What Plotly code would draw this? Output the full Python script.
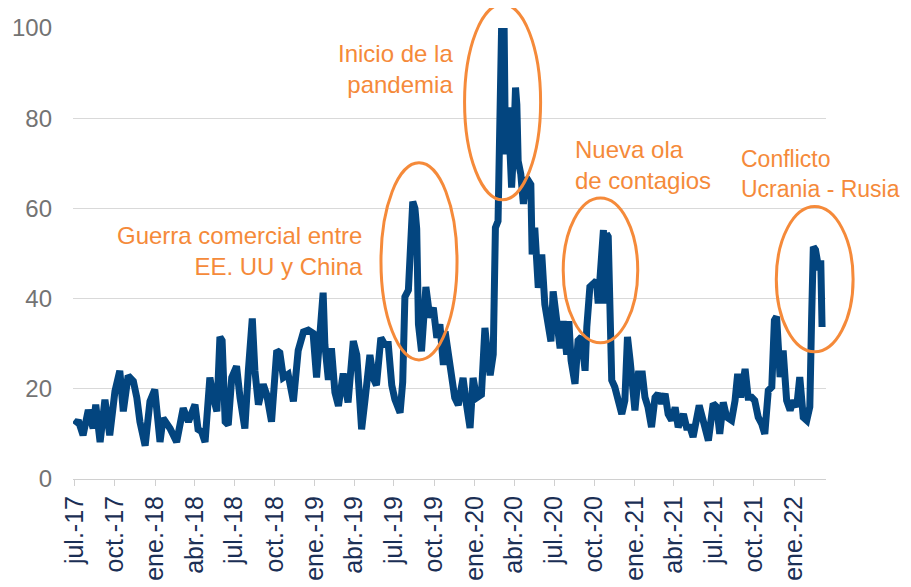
import pandas as pd
import plotly.graph_objects as go

START = pd.Timestamp("2017-07-01")

# observation dates expressed as days since 1 Jul 2017
days_since_start = [
    0, 8, 19, 31, 42, 48, 58, 69, 80, 92, 103, 111, 122, 134, 142, 149, 161, 172, 183, 189,
    195, 202, 218, 233, 248, 260, 275, 282, 290, 298, 309, 317, 325, 332, 337, 344, 351, 359,
    370, 378, 389, 397, 406, 412, 420, 431, 439, 450, 462, 469, 477, 488, 500, 511, 523, 534,
    545, 553, 561, 568, 572, 580, 587, 595, 603, 614, 625, 637, 645, 648, 656, 664, 675, 683,
    690, 700, 709, 717, 725, 732, 744, 750, 755, 763, 767, 773, 778, 782, 786, 793, 803, 812,
    820, 828, 835, 843, 847, 854, 862, 869, 877, 888, 896, 904, 911, 919, 930, 938, 944, 950,
    957, 962, 968, 972, 976, 982, 985, 991, 995, 999, 1003, 1008, 1011, 1014, 1020, 1026,
    1033, 1043, 1046, 1052, 1060, 1068, 1075, 1083, 1089, 1094, 1102, 1110, 1117, 1125, 1130,
    1135, 1144, 1151, 1159, 1167, 1171, 1178, 1186, 1193, 1197, 1203, 1209, 1212, 1216, 1220,
    1224, 1228, 1235, 1243, 1251, 1258, 1264, 1270, 1277, 1281, 1289, 1298, 1304, 1311, 1319,
    1327, 1334, 1342, 1350, 1357, 1365, 1373, 1380, 1392, 1399, 1407, 1414, 1428, 1437, 1449,
    1460, 1468, 1475, 1483, 1491, 1502, 1510, 1516, 1523, 1533, 1540, 1548, 1555, 1563, 1571,
    1578, 1586, 1594, 1600, 1605, 1613, 1620, 1628, 1636, 1643, 1651, 1658, 1666, 1674, 1681,
    1685, 1689, 1694, 1699, 1702, 1706, 1709,
]

index_values = [
    12, 13, 9.7, 15.3, 11.2, 16.5, 8.2, 17.6, 9.7, 19.5, 24, 15, 22.9, 21.7, 18, 12.7, 7.4, 17.2, 19.8, 12.7,
    8.2, 13.5, 11.2, 8.2, 15.7, 12.7, 16.5, 11, 10.5, 8.2, 22.5, 18, 15, 31.5, 30.7, 12.7, 12, 22.5,
    25, 18, 11.2, 24, 35.6, 24, 16.5, 21, 18.7, 12.7, 28.5, 28, 22.5, 23.2, 17.2, 28.5, 32.6, 33,
    32.3, 22.5, 33.8, 41.3, 29.8, 22, 29, 19.2, 16.2, 23.4, 17, 30.6, 27.5, 23, 11, 17.7, 27.5, 22.3,
    20.8, 31.3, 29.8, 29.8, 20.8, 17.7, 14.7, 21.5, 40.4, 41.9, 54.7, 61.5, 60, 55.5, 34.3, 28.3, 42.6, 35.8,
    38, 31.3, 34.3, 25.3, 32.7, 27.6, 21.6, 18, 16.4, 22.4, 16.4, 11.3, 22.4, 18, 18.7, 33.5, 27.6, 23,
    27.6, 55.7, 57.2, 79.4, 99.4, 99.4, 72, 82.4, 66, 64.6, 72, 86.8, 83, 70.5, 67.6, 61,
    66.8, 65.3, 49.8, 55.7, 42.4, 49.8, 38.7, 35, 30.5, 41.6, 35, 29, 35, 27.6, 35,
    26.3, 21.1, 30.7, 31.5, 24, 33.7, 42.6, 43.3, 44, 38.9, 48.5, 55.2, 38.9, 54.4, 53.7,
    22.6, 21.9, 20.4, 16.7, 14.4, 17.4, 31.5, 26.3, 15.9, 15.2, 23.3, 23.3, 18.1, 15.9, 11.5,
    18.1, 18.9, 16.7, 18.9, 14.4, 13, 15.9, 11.5, 14.4, 11.5, 11.5, 9.3, 16.3, 13, 8.5,
    16.7, 16, 10, 17, 13.7, 13, 17.4, 23.3, 18.1, 24.4, 18.1, 18.1, 17.4, 13.7, 12.2,
    10, 19.6, 20.4, 35.2, 36, 22.6, 28.5, 17.4, 15.2, 17.4, 16, 22.6, 13.7, 13, 16,
    35.2, 51.5, 50.8, 48.5, 46.3, 48.5, 33.7,
]

tick_dates = [
    "2017-07-01", "2017-10-01", "2018-01-01", "2018-04-01", "2018-07-01", "2018-10-01",
    "2019-01-01", "2019-04-01", "2019-07-01", "2019-10-01", "2020-01-01", "2020-04-01",
    "2020-07-01", "2020-10-01", "2021-01-01", "2021-04-01", "2021-07-01", "2021-10-01",
    "2022-01-01",
]
tick_labels = [
    "jul.-17", "oct.-17", "ene.-18", "abr.-18", "jul.-18", "oct.-18",
    "ene.-19", "abr.-19", "jul.-19", "oct.-19", "ene.-20", "abr.-20",
    "jul.-20", "oct.-20", "ene.-21", "abr.-21", "jul.-21", "oct.-21",
    "ene.-22",
]

event_labels = [
    "Guerra comercial entre<br>EE. UU y China",
    "Inicio de la<br>pandemia",
    "Nueva ola<br>de contagios",
    "Conflicto<br>Ucrania - Rusia",
]

dates = [START + pd.Timedelta(days=d) for d in days_since_start]

ORANGE = "#F58A3A"
BLUE = "#03457F"
FONT = "Liberation Sans, Arial, sans-serif"

fig = go.Figure()
fig.add_trace(go.Scatter(
    x=dates, y=index_values, mode="lines",
    line=dict(color=BLUE, width=7),
    hoverinfo="skip", showlegend=False,
))

# ellipses (paper coordinates so they are not clipped)
ellipses = [
    (0.409, 0.264, 0.510, 0.701),
    (0.520, 0.619, 0.621, 1.053),
    (0.651, 0.302, 0.750, 0.623),
    (0.934, 0.282, 1.036, 0.604),
]
for x0, y0, x1, y1 in ellipses:
    fig.add_shape(type="circle", xref="paper", yref="paper",
                  x0=x0, y0=y0, x1=x1, y1=y1,
                  line=dict(color=ORANGE, width=3), layer="above")

label_pos = [
    (0.388, 0.506, "right", "right", 24),
    (0.507, 0.909, "right", "right", 24),
    (0.664, 0.696, "left", "left", 24),
    (0.885, 0.676, "left", "left", 23),
]
for (x, y, xa, al, fs), txt in zip(label_pos, event_labels):
    fig.add_annotation(x=x, y=y, xref="paper", yref="paper", text=txt,
                       showarrow=False, xanchor=xa, yanchor="middle", align=al,
                       font=dict(family=FONT, size=fs, color=ORANGE))

# page body has an 8px default margin, so margins are reduced by 8px
fig.update_layout(
    width=903, height=579,
    margin=dict(l=65, r=85, t=20, b=108),
    paper_bgcolor="white", plot_bgcolor="white",
    font=dict(family=FONT),
    xaxis=dict(
        type="date", range=["2017-06-27", "2022-03-15"],
        tickmode="array", tickvals=tick_dates, ticktext=tick_labels,
        tickangle=-90, tickfont=dict(family=FONT, size=25, color="#1B2F55"),
        showgrid=False, showline=True, linecolor="#D0D0D0", linewidth=1,
        ticks="outside", ticklen=6, tickcolor="#D0D0D0",
        zeroline=False, automargin=False,
    ),
    yaxis=dict(
        range=[0, 100], tickmode="array", tickvals=[0, 20, 40, 60, 80, 100],
        tickfont=dict(family=FONT, size=24, color="#737373"),
        showgrid=True, gridcolor="#D9D9D9", gridwidth=1,
        zeroline=False, showline=False, ticklabelstandoff=20, automargin=False,
    ),
)

fig.write_html("out.html")
